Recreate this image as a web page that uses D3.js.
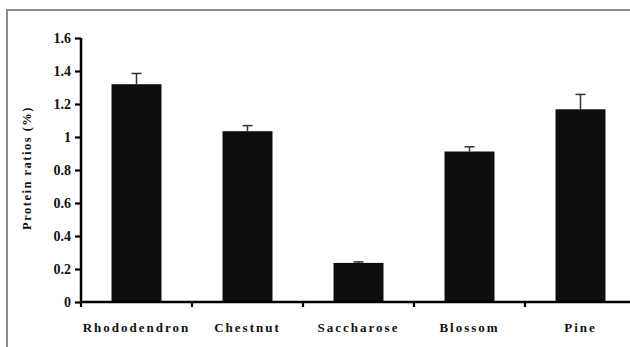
<!DOCTYPE html>
<html>
<head>
<meta charset="utf-8">
<script src="https://cdn.jsdelivr.net/npm/d3@7"></script>
<style>
	body{margin:0;background:#fff;}
	svg{display:block;}
</style>
</head>
<body>
<script>
var categories=["Rhododendron","Chestnut","Saccharose","Blossom","Pine"];
var ratios=[1.32,1.035,0.237,0.912,1.168];
var errors=[0.065,0.034,0.006,0.029,0.09];
var yTicks=[0,0.2,0.4,0.6,0.8,1,1.2,1.4,1.6];

var pWidth=630, pHeight=347;
var axisX=81, axisY=302, topY=38;
var barColor='#0e0e0e';
var serif="'Liberation Serif','DejaVu Serif',serif";

var svg=d3.select("body").append("svg")
	.attr("width",pWidth).attr("height",pHeight);

// grey frame round the figure
svg.append("rect")
	.attr("x",7).attr("y",10)
	.attr("width",pWidth).attr("height",pHeight)
	.attr("fill","none").attr("stroke","#8c8c8c").attr("stroke-width",2);

var xScale=d3.scaleBand()
	.domain(categories)
	.range([axisX,axisX+5*111])
	.paddingInner(0.55).paddingOuter(0.275);
var bandScale=d3.scaleBand().domain(categories).range([axisX,axisX+5*111]);

var yScale=d3.scaleLinear()
	.domain([0,1.6])
	.range([axisY,topY]);

// bars
svg.selectAll("rect.bar").data(ratios).enter().append("rect")
	.attr("class","bar")
	.attr("x",function(d,i){return xScale(categories[i]);})
	.attr("width",xScale.bandwidth())
	.attr("y",function(d){return yScale(d);})
	.attr("height",function(d){return yScale(0)-yScale(d);})
	.attr("fill",barColor);

// error bars (upper only)
var errG=svg.selectAll("g.err").data(ratios).enter().append("g")
	.attr("class","err")
	.attr("transform",function(d,i){
		return "translate("+(xScale(categories[i])+xScale.bandwidth()/2)+",0)";
	});
errG.append("line")
	.attr("x1",0).attr("x2",0)
	.attr("y1",function(d){return yScale(d);})
	.attr("y2",function(d,i){return yScale(d+errors[i]);})
	.attr("stroke","#333").attr("stroke-width",1.5);
errG.append("line")
	.attr("x1",-5).attr("x2",5)
	.attr("y1",function(d,i){return yScale(d+errors[i]);})
	.attr("y2",function(d,i){return yScale(d+errors[i]);})
	.attr("stroke","#333").attr("stroke-width",1.5);

// y axis
var yAxis=svg.append("g")
	.attr("transform","translate("+axisX+",0)")
	.call(d3.axisLeft(yScale).tickValues(yTicks).tickSize(6).tickPadding(4)
		.tickFormat(function(d){return String(d);}));
yAxis.attr("font-family",serif).attr("font-weight","bold").attr("font-size",14);
yAxis.select(".domain").attr("d","M0,"+topY+"V"+axisY)
	.attr("stroke","#000").attr("stroke-width",2.5);
yAxis.selectAll(".tick line").attr("stroke","#000").attr("stroke-width",2.2);
yAxis.selectAll(".tick text").attr("fill","#111");

// x axis
var xAxis=svg.append("g")
	.attr("transform","translate(0,"+axisY+")")
	.call(d3.axisBottom(bandScale).tickSize(0).tickPadding(0));
xAxis.attr("font-family",serif).attr("font-weight","bold").attr("font-size",13);
xAxis.select(".domain").attr("d","M"+axisX+",0H"+pWidth)
	.attr("stroke","#000").attr("stroke-width",2.5);
xAxis.selectAll(".tick text")
	.attr("fill","#111")
	.attr("letter-spacing","2px")
	.attr("dy",0).attr("y",30);
// tick marks sit on band edges
xAxis.selectAll("line.edge").data(categories).enter().append("line")
	.attr("class","edge")
	.attr("x1",function(d){return bandScale(d);})
	.attr("x2",function(d){return bandScale(d);})
	.attr("y1",0).attr("y2",5)
	.attr("stroke","#000").attr("stroke-width",2.2);

// y title
svg.append("text")
	.attr("font-family",serif).attr("font-weight","bold")
	.attr("font-size",12.5).attr("fill","#111")
	.attr("letter-spacing","1.5px")
	.attr("text-anchor","middle")
	.attr("transform","translate(31,168) rotate(-90)")
	.text("Protein ratios (%)");
</script>
</body>
</html>
